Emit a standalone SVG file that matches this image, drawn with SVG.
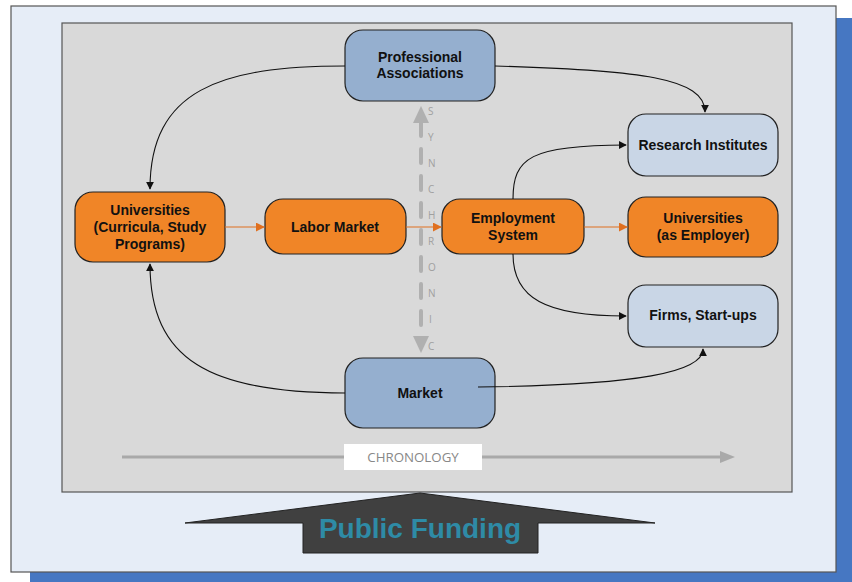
<svg xmlns="http://www.w3.org/2000/svg" width="852" height="582" viewBox="0 0 852 582">
  <style>
    .node rect { stroke: #222; stroke-width: 1.2; }
    .blue rect { fill: #95afcf; }
    .pale rect { fill: #c9d6e6; }
    .orange rect { fill: #f08527; }
    .node text { font-family: "Liberation Sans", Arial, sans-serif; font-weight: bold; font-size: 14px; fill: #111; text-anchor: middle; }
    .conn { fill: none; stroke: #111; stroke-width: 1.1; }
    .oconn { fill: none; stroke: #e07020; stroke-width: 1.2; }
    .sync { font-family: "Open Sans", "DejaVu Sans", sans-serif; font-size: 10px; fill: #a0a0a0; }
  </style>
  <defs>
    <marker id="ah" viewBox="0 0 10 10" refX="9" refY="5" markerWidth="8" markerHeight="8" orient="auto" markerUnits="userSpaceOnUse">
      <path d="M0,0 L10,5 L0,10 z" fill="#111"/>
    </marker>
    <marker id="ahO" viewBox="0 0 10 10" refX="9" refY="5" markerWidth="9" markerHeight="9" orient="auto" markerUnits="userSpaceOnUse">
      <path d="M0,0 L10,5 L0,10 z" fill="#e07020"/>
    </marker>
  </defs>

  <!-- backdrop panels -->
  <rect x="30" y="18" width="822" height="564" fill="#4677c2"/>
  <rect x="11" y="6" width="825" height="566" fill="#e6edf7" stroke="#555" stroke-width="1.2"/>
  <rect x="62" y="23" width="730" height="469" fill="#d9d9d9" stroke="#555" stroke-width="1.2"/>

  <!-- chronology axis -->
  <g id="chronology">
    <line x1="122" y1="457" x2="722" y2="457" stroke="#a9a9a9" stroke-width="3"/>
    <path d="M720,451 L735,457 L720,463 z" fill="#a9a9a9"/>
    <rect x="344" y="444" width="138" height="26" fill="#fff"/>
    <text x="413" y="462" text-anchor="middle" font-family="Open Sans, DejaVu Sans, sans-serif" font-size="13.3" fill="#888">CHRONOLOGY</text>
  </g>

  <!-- synchronic axis -->
  <g id="synchronic">
    <line x1="421" y1="122" x2="421" y2="338" stroke="#b0b0b0" stroke-width="4" stroke-dasharray="14,13" stroke-linecap="round"/>
    <path d="M413,123 L421,106 L429,123 z" fill="#b0b0b0"/>
    <path d="M413,336 L421,353 L429,336 z" fill="#b0b0b0"/>
    <text class="sync" x="428" y="115">S</text>
    <text class="sync" x="428" y="141">Y</text>
    <text class="sync" x="428" y="167">N</text>
    <text class="sync" x="428" y="193">C</text>
    <text class="sync" x="428" y="219">H</text>
    <text class="sync" x="428" y="245">R</text>
    <text class="sync" x="428" y="271">O</text>
    <text class="sync" x="428" y="297">N</text>
    <text class="sync" x="429" y="323">I</text>
    <text class="sync" x="428" y="350">C</text>
  </g>

  <!-- nodes -->
  <g id="professional-associations" class="node blue">
    <rect x="345" y="30" width="150" height="71" rx="18"/>
    <text x="420" y="62">Professional</text>
    <text x="420" y="78">Associations</text>
  </g>
  <g id="research-institutes" class="node pale">
    <rect x="628" y="114" width="150" height="62" rx="18"/>
    <text x="703" y="150">Research Institutes</text>
  </g>
  <g id="universities-curricula" class="node orange">
    <rect x="75" y="192" width="150" height="70" rx="18"/>
    <text x="150" y="215">Universities</text>
    <text x="150" y="232">(Curricula, Study</text>
    <text x="150" y="249">Programs)</text>
  </g>
  <g id="labor-market" class="node orange">
    <rect x="265" y="199" width="141" height="55" rx="18"/>
    <text x="335" y="232">Labor Market</text>
  </g>
  <g id="employment-system" class="node orange">
    <rect x="442" y="199" width="142" height="55" rx="18"/>
    <text x="513" y="223">Employment</text>
    <text x="513" y="240">System</text>
  </g>
  <g id="universities-employer" class="node orange">
    <rect x="628" y="197" width="150" height="60" rx="18"/>
    <text x="703" y="223">Universities</text>
    <text x="703" y="240">(as Employer)</text>
  </g>
  <g id="firms-startups" class="node pale">
    <rect x="628" y="285" width="150" height="62" rx="18"/>
    <text x="703" y="320">Firms, Start-ups</text>
  </g>
  <g id="market" class="node blue">
    <rect x="345" y="358" width="150" height="70" rx="18"/>
    <text x="420" y="398">Market</text>
  </g>

  <!-- connectors -->
  <g id="connectors">
    <path class="conn" d="M345,66 C220,66 150,90 150,189" marker-end="url(#ah)"/>
    <path class="conn" d="M495,66 C640,70 705,78 705,112" marker-end="url(#ah)"/>
    <path class="conn" d="M345,393 C210,393 150,360 150,264" marker-end="url(#ah)"/>
    <path class="conn" d="M478,387 C640,385 703,372 703,349" marker-end="url(#ah)"/>
    <path class="conn" d="M513,199 C513,158 530,145 626,145" marker-end="url(#ah)"/>
    <path class="conn" d="M513,254 C513,298 545,316 626,316" marker-end="url(#ah)"/>
    <path class="oconn" d="M225,227 L264,227" marker-end="url(#ahO)"/>
    <path class="oconn" d="M406,227 L441,227" marker-end="url(#ahO)"/>
    <path class="oconn" d="M584,227 L627,227" marker-end="url(#ahO)"/>
  </g>

  <!-- public funding arrow -->
  <g id="public-funding">
    <path d="M185,523 L420,493 L655,523 L538,523 L538,553 L303,553 L303,523 z" fill="#404040" stroke="#222" stroke-width="1"/>
    <text x="420" y="538" text-anchor="middle" font-family="Liberation Sans, Arial, sans-serif" font-weight="bold" font-size="28" fill="#2e8ba6">Public Funding</text>
  </g>
</svg>
